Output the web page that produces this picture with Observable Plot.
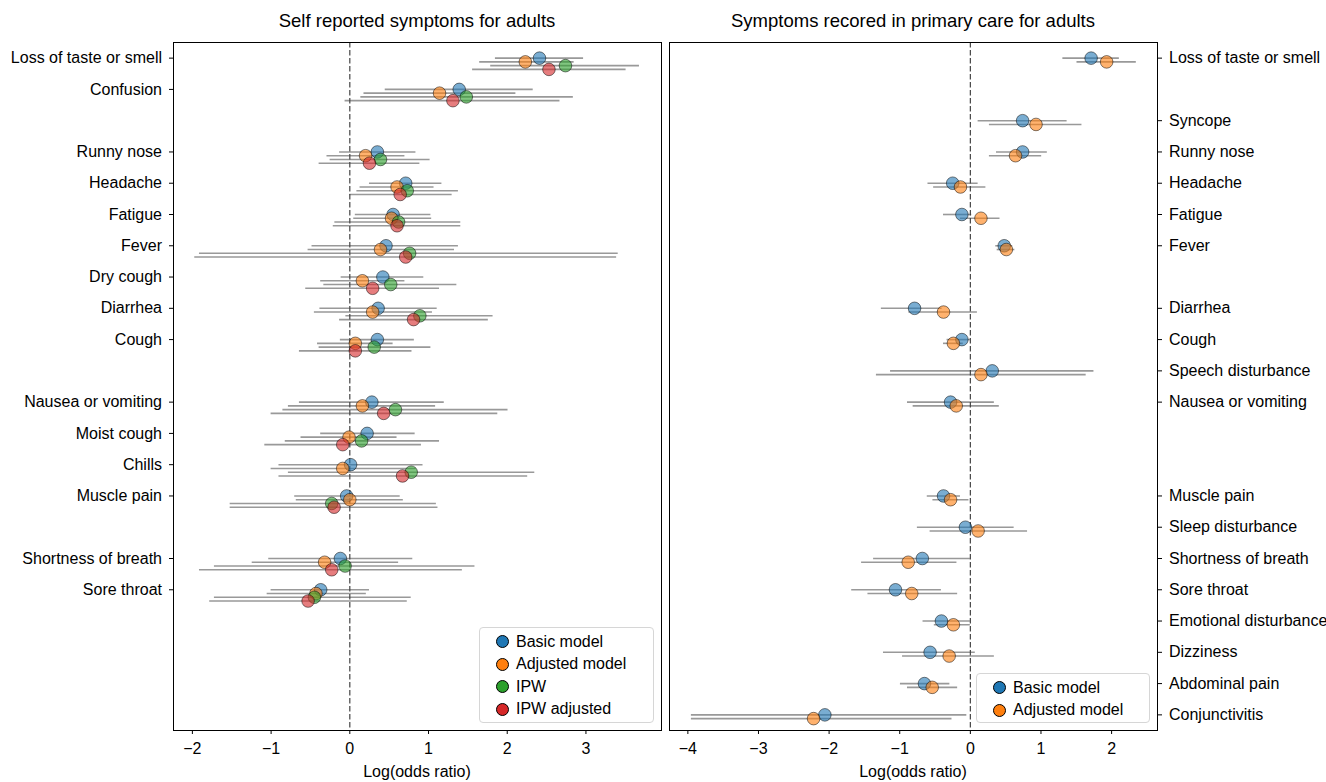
<!DOCTYPE html>
<html><head><meta charset="utf-8">
<script src="https://cdn.jsdelivr.net/npm/d3@7"></script>
<script src="https://cdn.jsdelivr.net/npm/@observablehq/plot@0.6"></script>
<style>
body{margin:0;background:#fff;font-family:"Liberation Sans",Arial,Helvetica,sans-serif;color:#000;}
#wrap{position:relative;width:1326px;height:782px;overflow:hidden;}
.panel{position:absolute;top:0;}
.title{position:absolute;top:11.5px;line-height:1;font-size:18.5px;text-align:center;white-space:nowrap;}
.xlabel{position:absolute;top:764px;line-height:1;font-size:16px;text-align:center;white-space:nowrap;}
.legend{position:absolute;border:1px solid #d6d6d6;border-radius:4px;background:rgba(255,255,255,0.85);box-sizing:border-box;}
.lg-dot{position:absolute;width:13px;height:13px;border-radius:50%;border:1px solid #000;box-sizing:border-box;}
.lg-text{position:absolute;font-size:16px;line-height:1;white-space:nowrap;}
</style>
</head><body>
<div id="wrap"></div>
<script>
// ---------- data ----------
const allSymptoms = ["Loss of taste or smell","Confusion","Syncope","Runny nose","Headache","Fatigue","Fever","Dry cough","Diarrhea","Cough","Speech disturbance","Nausea or vomiting","Moist cough","Chills","Muscle pain","Sleep disturbance","Shortness of breath","Sore throat","Emotional disturbance","Dizziness","Abdominal pain","Conjunctivitis"];

const modelNames = ["Basic model","Adjusted model","IPW","IPW adjusted"];
const modelColors = ["#1f77b4","#ff7f0e","#2ca02c","#d62728"];

// Left panel: self reported symptoms
const leftTitle = "Self reported symptoms for adults";
const leftSymptoms = ["Loss of taste or smell","Confusion","Runny nose","Headache","Fatigue","Fever","Dry cough","Diarrhea","Cough","Nausea or vomiting","Moist cough","Chills","Muscle pain","Shortness of breath","Sore throat"];
const leftBasicEst = [2.41,1.39,0.35,0.71,0.55,0.46,0.42,0.36,0.35,0.28,0.22,0.01,-0.04,-0.12,-0.37];
const leftBasicLo  = [1.85,0.45,-0.13,0.25,0.07,-0.48,-0.11,-0.38,-0.12,-0.64,-0.37,-0.90,-0.70,-1.03,-1.00];
const leftBasicHi  = [2.97,2.33,0.84,1.17,1.03,1.38,0.94,1.11,0.82,1.20,0.83,0.93,0.64,0.80,0.25];
const leftAdjEst = [2.23,1.14,0.20,0.60,0.53,0.39,0.16,0.29,0.07,0.16,-0.01,-0.09,0.00,-0.32,-0.43];
const leftAdjLo  = [1.65,0.18,-0.29,0.13,0.05,-0.53,-0.37,-0.45,-0.41,-0.78,-0.62,-1.00,-0.68,-1.24,-1.05];
const leftAdjHi  = [2.85,2.11,0.70,1.07,1.04,1.33,0.70,1.05,0.55,1.09,0.60,0.84,0.68,0.62,0.21];
const leftIpwEst = [2.74,1.48,0.39,0.73,0.62,0.76,0.52,0.89,0.31,0.58,0.15,0.78,-0.23,-0.06,-0.45];
const leftIpwLo  = [1.79,0.14,-0.25,0.09,-0.19,-1.91,-0.33,-0.05,-0.39,-0.85,-0.82,-0.78,-1.52,-1.72,-1.72];
const leftIpwHi  = [3.68,2.84,1.02,1.38,1.41,3.41,1.36,1.82,1.03,2.01,1.14,2.35,1.10,1.59,0.78];
const leftIpwAdjEst = [2.53,1.31,0.25,0.64,0.60,0.71,0.29,0.81,0.07,0.43,-0.09,0.67,-0.20,-0.23,-0.53];
const leftIpwAdjLo  = [1.56,-0.06,-0.39,0.00,-0.21,-1.97,-0.56,-0.13,-0.64,-1.00,-1.08,-0.90,-1.52,-1.91,-1.78];
const leftIpwAdjHi  = [3.51,2.67,0.89,1.30,1.41,3.39,1.14,1.76,0.79,1.88,0.91,2.26,1.12,1.43,0.73];
const leftXTicks = [-2,-1,0,1,2,3];

// Right panel: primary care
const rightTitle = "Symptoms recored in primary care for adults";
const rightSymptoms = ["Loss of taste or smell","Syncope","Runny nose","Headache","Fatigue","Fever","Diarrhea","Cough","Speech disturbance","Nausea or vomiting","Muscle pain","Sleep disturbance","Shortness of breath","Sore throat","Emotional disturbance","Dizziness","Abdominal pain","Conjunctivitis"];
const rightBasicEst = [1.71,0.74,0.74,-0.25,-0.12,0.48,-0.79,-0.12,0.31,-0.28,-0.38,-0.07,-0.68,-1.06,-0.41,-0.57,-0.65,-2.06];
const rightBasicLo  = [1.31,0.11,0.37,-0.60,-0.38,0.36,-1.26,-0.33,-1.13,-0.89,-0.61,-0.75,-1.37,-1.68,-0.67,-1.23,-0.99,-3.95];
const rightBasicHi  = [2.11,1.37,1.09,0.11,0.02,0.60,-0.40,0.00,1.75,0.34,-0.14,0.62,0.00,-0.41,0.00,0.07,-0.29,-0.05];
const rightAdjEst = [1.93,0.93,0.64,-0.14,0.15,0.51,-0.38,-0.24,0.15,-0.20,-0.28,0.11,-0.88,-0.83,-0.24,-0.30,-0.54,-2.22];
const rightAdjLo  = [1.51,0.27,0.27,-0.52,-0.14,0.38,-0.87,-0.38,-1.33,-0.81,-0.53,-0.57,-1.54,-1.45,-0.51,-0.96,-0.89,-3.95];
const rightAdjHi  = [2.35,1.58,1.01,0.22,0.42,0.63,0.10,-0.10,1.64,0.41,-0.02,0.81,-0.19,-0.18,0.00,0.34,-0.18,-0.26];
const rightXTicks = [-4,-3,-2,-1,0,1,2];

const xLabel = "Log(odds ratio)";

// ---------- build ----------
const STEP = 0.12; // vertical dodge between models (row units)
const fmt = d => d < 0 ? "\u2212" + Math.abs(d) : String(d);
const FONT = '"Liberation Sans", Arial, Helvetica, sans-serif';

function makeRows(symptoms, models) {
  const rows = [];
  models.forEach((m, k) => {
    symptoms.forEach((s, i) => {
      rows.push({symptom: s, model: m.name, y: allSymptoms.indexOf(s) + k * STEP, est: m.est[i], lo: m.lo[i], hi: m.hi[i]});
    });
  });
  return rows;
}

function panel({symptoms, models, xDomain, xTicks, width, marginLeft, marginRight, anchor}) {
  const rows = makeRows(symptoms, models);
  const yTicks = symptoms.map(s => allSymptoms.indexOf(s));
  return Plot.plot({
    width, height: 782,
    marginTop: 42, marginBottom: 52, marginLeft, marginRight,
    style: {fontFamily: FONT, fontSize: "16px", color: "#000", background: "transparent", overflow: "visible"},
    x: {domain: xDomain},
    y: {type: "linear", domain: [21.5, -0.5]},
    color: {domain: modelNames, range: modelColors},
    marks: [
      Plot.ruleY(rows, {y: "y", x1: "lo", x2: "hi", stroke: "#808080", strokeOpacity: 0.8, strokeWidth: 1.6}),
      Plot.ruleX([0], {stroke: "#444", strokeDasharray: "5.5,2.5", strokeWidth: 1.2}),
      Plot.dot(rows, {x: "est", y: "y", fill: "model", fillOpacity: 0.6, stroke: "#000", strokeOpacity: 0.55, strokeWidth: 0.9, r: 6.3}),
      Plot.axisX({ticks: xTicks, tickFormat: fmt, tickSize: 4, tickPadding: 8, label: null}),
      Plot.axisY({anchor, ticks: yTicks, tickFormat: i => allSymptoms[Math.round(i)], tickSize: 4, tickPadding: 7.5, label: null}),
      Plot.frame({stroke: "#000", strokeWidth: 1})
    ]
  });
}

const wrap = document.getElementById("wrap");

const leftModels = [
  {name: modelNames[0], est: leftBasicEst, lo: leftBasicLo, hi: leftBasicHi},
  {name: modelNames[1], est: leftAdjEst, lo: leftAdjLo, hi: leftAdjHi},
  {name: modelNames[2], est: leftIpwEst, lo: leftIpwLo, hi: leftIpwHi},
  {name: modelNames[3], est: leftIpwAdjEst, lo: leftIpwAdjLo, hi: leftIpwAdjHi}
];
const rightModels = [
  {name: modelNames[0], est: rightBasicEst, lo: rightBasicLo, hi: rightBasicHi},
  {name: modelNames[1], est: rightAdjEst, lo: rightAdjLo, hi: rightAdjHi}
];

const leftDiv = document.createElement("div");
leftDiv.className = "panel"; leftDiv.style.left = "0px";
leftDiv.appendChild(panel({symptoms: leftSymptoms, models: leftModels, xDomain: [-2.24, 3.96], xTicks: leftXTicks, width: 665, marginLeft: 173, marginRight: 4, anchor: "left"}));
wrap.appendChild(leftDiv);

const rightDiv = document.createElement("div");
rightDiv.className = "panel"; rightDiv.style.left = "665px";
rightDiv.appendChild(panel({symptoms: rightSymptoms, models: rightModels, xDomain: [-4.26, 2.65], xTicks: rightXTicks, width: 661, marginLeft: 4, marginRight: 169, anchor: "right"}));
wrap.appendChild(rightDiv);

function addText(cls, text, cx, w) {
  const d = document.createElement("div");
  d.className = cls; d.textContent = text;
  d.style.left = (cx - w / 2) + "px"; d.style.width = w + "px";
  wrap.appendChild(d);
}
addText("title", leftTitle, 417, 480);
addText("title", rightTitle, 913, 480);
addText("xlabel", xLabel, 417, 300);
addText("xlabel", xLabel, 913, 300);

function legend(x, y, w, h, names) {
  const box = document.createElement("div");
  box.className = "legend";
  Object.assign(box.style, {left: x + "px", top: y + "px", width: w + "px", height: h + "px"});
  names.forEach((n, i) => {
    const cy = 13.5 + i * 22.5;
    const dot = document.createElement("div");
    dot.className = "lg-dot";
    Object.assign(dot.style, {left: (22 - 6.5) + "px", top: (cy - 6.5) + "px", background: modelColors[modelNames.indexOf(n)]});
    const t = document.createElement("div");
    t.className = "lg-text"; t.textContent = n;
    Object.assign(t.style, {left: "36px", top: (cy - 8) + "px"});
    box.appendChild(dot); box.appendChild(t);
  });
  wrap.appendChild(box);
}
legend(479, 627, 175, 96, modelNames);
legend(976, 673, 174, 50, modelNames.slice(0, 2));
</script>
</body></html>
